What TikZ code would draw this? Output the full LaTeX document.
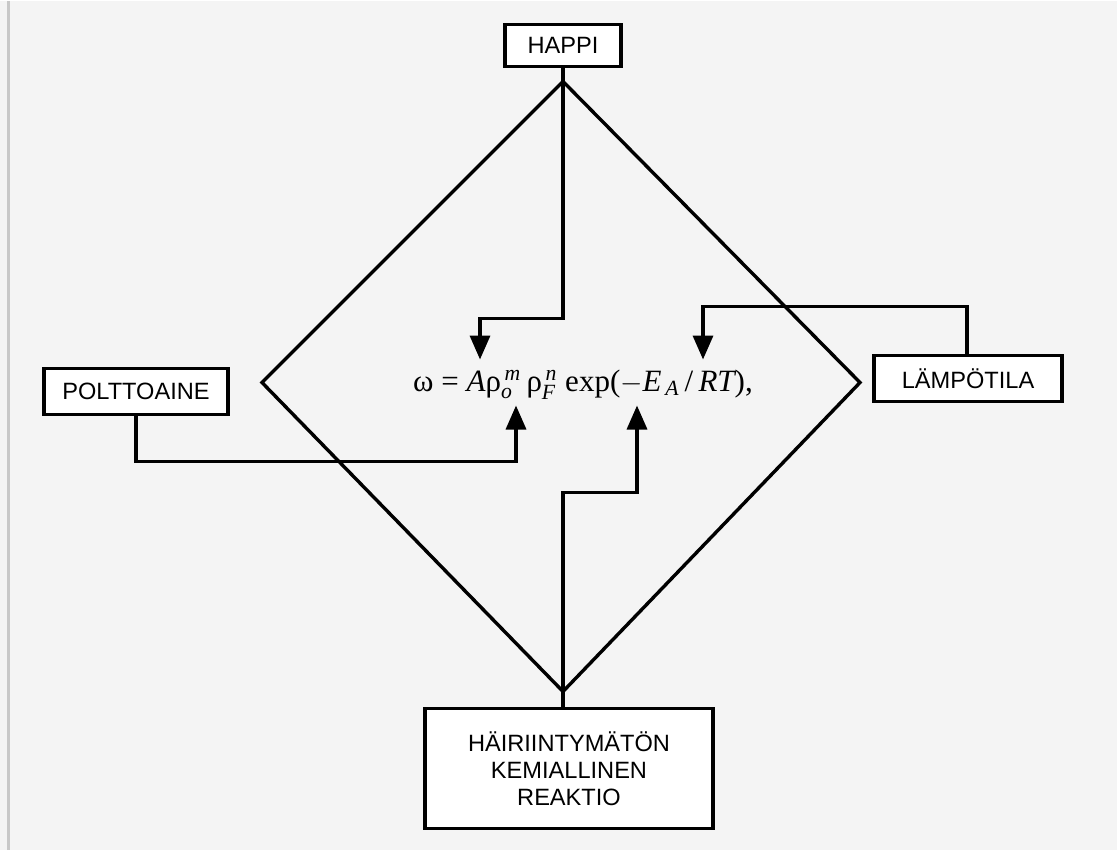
\documentclass[tikz,border=0pt]{standalone}
\usepackage{amsmath}
\usepackage{fontspec}
\setmainfont{Liberation Sans}
\newfontfamily\FormulaFont{Liberation Serif}
\usetikzlibrary{arrows.meta,positioning}
\definecolor{paper}{HTML}{F4F4F4}
\definecolor{paperedge}{HTML}{C8C8C8}
\newcommand{\LabelFont}{\fontsize{11.8pt}{13.5pt}\selectfont}
\newcommand{\FormulaSize}{\fontsize{15.5pt}{18pt}\selectfont}
\newcommand{\fit}[1]{\text{\FormulaFont\itshape #1}}
\tikzset{
  factor box/.style={draw=black, line width=1.7pt, fill=white,
    font=\LabelFont, align=center, inner sep=0pt},
  feed line/.style={line width=1.7pt, draw=black},
  feed arrow/.style={feed line, -{Triangle[width=10pt,length=12pt]}},
  frame line/.style={line width=1.7pt, draw=black, line join=miter}
}
\begin{document}
\begin{tikzpicture}[x=0.5pt,y=-0.5pt]
  % paper
  \fill[paper] (0,0) rectangle (1117,848);
  \draw[paperedge, line width=1.5pt] (8,0) -- (8,848);
  \useasboundingbox (0,0) rectangle (1117,848);

  % factors
  \node[factor box, minimum width=58pt, minimum height=21pt] (happi) at (563,44) {HAPPI};
  \node[factor box, minimum width=92pt, minimum height=23pt] (polttoaine) at (136,390) {POLTTOAINE};
  \node[factor box, minimum width=94pt, minimum height=23pt] (lampotila) at (968,377) {LÄMPÖTILA};
  \node[factor box, minimum width=144pt, minimum height=60pt] (reaktio) at (569,767)
    {HÄIRIINTYMÄTÖN\\KEMIALLINEN\\REAKTIO};

  % reaction rate
  \node[font=\FormulaSize\FormulaFont] (rate) at (583,383)
    {ω = $\fit{A}$ρ$^{\,\fit{m}}_{\fit{o}}$\,ρ$^{\,\fit{n}}_{\fit{F}}$ exp($-\fit{E}_{\,\fit{A}}$\,/\,$\fit{RT}$),};

  % diamond
  \coordinate (top) at (563,80);
  \coordinate (left) at (262,381);
  \coordinate (right) at (860,381);
  \coordinate (bottom) at (563,690);
  \draw[frame line] (top) -- (right) -- (bottom) -- (left) -- cycle;
  \draw[feed line] (happi.south) -- (top);
  \draw[feed line] (reaktio.north -| bottom) -- (bottom);

  % inputs into the rate expression
  \coordinate (happi-bend) at (480,317);
  \coordinate (happi-tip) at (480,358);
  \coordinate (lampotila-bend) at (703,305);
  \coordinate (lampotila-tip) at (703,358);
  \coordinate (polttoaine-bend) at (516,460);
  \coordinate (polttoaine-tip) at (516,404);
  \coordinate (reaktio-bend) at (637,491);
  \coordinate (reaktio-tip) at (637,404);

  \draw[feed arrow] (top) |- (happi-bend) -- (happi-tip);
  \draw[feed arrow] (lampotila.north -| 967,0) |- (lampotila-bend) -- (lampotila-tip);
  \draw[feed arrow] (polttoaine.south) |- (polttoaine-bend) -- (polttoaine-tip);
  \draw[feed arrow] (bottom) |- (reaktio-bend) -- (reaktio-tip);
\end{tikzpicture}
\end{document}
